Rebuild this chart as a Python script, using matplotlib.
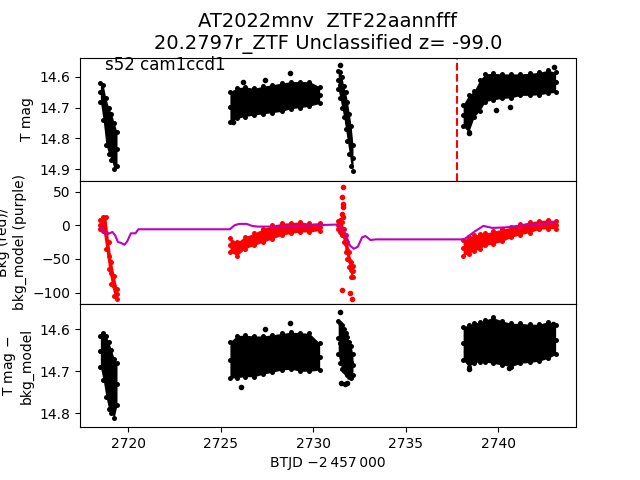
import matplotlib
matplotlib.use('Agg')
import matplotlib.pyplot as plt
from matplotlib.ticker import MultipleLocator
import numpy as np

# times (BTJD - 2457000) at which the band edges were read, one list per orbit chunk
seg1_t = [2718.5, 2718.65, 2718.8, 2718.95, 2719.1, 2719.25, 2719.4]
seg2_t = [2725.5, 2725.9, 2726.3, 2726.8, 2727.3, 2727.8, 2728.3, 2728.8, 2729.3, 2729.8, 2730.35]
seg3_t = [2731.35, 2731.45, 2731.55, 2731.65, 2731.75, 2731.85, 2731.95, 2732.05, 2732.15]
seg4_t = [2738.1, 2738.4, 2738.7, 2739.0, 2739.3, 2739.7, 2740.2, 2740.7, 2741.2,
          2741.7, 2742.2, 2742.7, 2743.1]

# top panel: T mag (bright edge / faint edge of the point cloud)
mag1_lo = [14.62, 14.625, 14.67, 14.70, 14.72, 14.75, 14.78]
mag1_hi = [14.68, 14.74, 14.82, 14.85, 14.87, 14.90, 14.89]
mag2_lo = [14.648, 14.635, 14.632, 14.637, 14.63, 14.625, 14.62, 14.615, 14.615, 14.615, 14.632]
mag2_hi = [14.746, 14.735, 14.729, 14.724, 14.72, 14.716, 14.712, 14.703, 14.70, 14.695, 14.686]
mag3_lo = [14.58, 14.583, 14.60, 14.63, 14.65, 14.68, 14.72, 14.76, 14.82]
mag3_hi = [14.64, 14.67, 14.70, 14.73, 14.77, 14.81, 14.85, 14.89, 14.905]
mag4_lo = [14.69, 14.66, 14.645, 14.61, 14.59, 14.588, 14.59, 14.59, 14.59, 14.588, 14.585, 14.578, 14.585]
mag4_hi = [14.76, 14.78, 14.73, 14.71, 14.68, 14.675, 14.67, 14.668, 14.66, 14.66, 14.658, 14.653, 14.65]
mag_out_t = [2725.64, 2726.19, 2727.38, 2728.73, 2731.43, 2738.4, 2739.86, 2740.62, 2743.01]
mag_out = [14.746, 14.615, 14.61, 14.588, 14.561, 14.784, 14.708, 14.697, 14.568]

# middle panel: background flux (red)
bkg1_lo = [-6, -8, -35, -65, -88, -105, -110]
bkg1_hi = [8, 12, 12, -25, -55, -75, -95]
bkg2_lo = [-40, -45, -35, -30, -25, -20, -15, -12, -10, -10, -8]
bkg2_hi = [-19, -25, -17, -12, -5, 0, 3, 4, 5, 3, 4]
bkg3_lo = [-6, -10, -15, -25, -40, -50, -62, -77, -77]
bkg3_hi = [6, 8, 5, -5, -15, -25, -40, -55, -60]
bkg4_lo = [-45, -42, -38, -35, -30, -28, -24, -18, -14, -11, -6, -5, -5]
bkg4_hi = [-22, -18, -15, -13, -12, -9, -6, -3, 2, 5, 7, 8, 7]
bkg_out_t = [2731.6, 2731.58, 2731.6, 2731.62, 2731.58, 2731.6, 2731.56, 2732.01, 2732.1]
bkg_out = [57, 42, 32, 27, 17, 12, -96, -101, -109]

# background model (purple line)
model_t = [2718.52, 2718.7, 2718.85, 2719.0, 2719.15, 2719.3, 2719.45, 2719.6, 2719.8,
           2719.95, 2720.15, 2720.4, 2720.55, 2725.5, 2725.75, 2726.0, 2726.4, 2726.7,
           2727.0, 2728.0, 2729.0, 2730.0, 2731.3, 2731.47, 2731.74, 2731.98, 2732.19,
           2732.41, 2732.64, 2732.82, 2733.1, 2733.37, 2738.15, 2738.69, 2739.19,
           2739.68, 2740.49, 2741.57, 2743.05]
model_v = [-3, -10, -13, -12, -10, -15, -25, -26, -29, -24, -12, -12, -6, -6, 0, 2, 2, -1,
           -2, -2, -1, 0, 1, -5, -12, -30, -35, -32, -18, -16, -22, -21, -21, -10, -1,
           -4, -3, 1, 3.4]

# bottom panel: T mag - bkg_model
cor1_lo = [14.615, 14.61, 14.615, 14.63, 14.65, 14.67, 14.68]
cor1_hi = [14.69, 14.72, 14.76, 14.79, 14.80, 14.81, 14.78]
cor2_lo = [14.63, 14.615, 14.614, 14.616, 14.616, 14.613, 14.61, 14.607, 14.608, 14.61, 14.633]
cor2_hi = [14.717, 14.715, 14.713, 14.713, 14.707, 14.702, 14.697, 14.695, 14.70, 14.70, 14.697]
cor3_lo = [14.58, 14.585, 14.59, 14.60, 14.61, 14.618, 14.63, 14.641, 14.66]
cor3_hi = [14.66, 14.68, 14.695, 14.70, 14.705, 14.71, 14.713, 14.715, 14.71]
cor4_lo = [14.594, 14.59, 14.585, 14.583, 14.578, 14.572, 14.58, 14.586, 14.586, 14.588, 14.588, 14.582, 14.59]
cor4_hi = [14.673, 14.689, 14.68, 14.677, 14.678, 14.681, 14.685, 14.689, 14.681, 14.679, 14.676, 14.669, 14.66]
cor_out_t = [2726.11, 2727.38, 2728.73, 2731.43, 2731.5, 2731.7, 2731.85, 2738.4, 2740.6, 2742.96]
cor_out = [14.738, 14.60, 14.586, 14.558, 14.729, 14.73, 14.728, 14.695, 14.693, 14.587]

disc_time = 2737.75


def draw_band(ax, t, lo, hi, color):
    # dense point cloud shown as its envelope plus dots along the edges
    lo = np.array(lo)
    hi = np.array(hi)
    ax.fill_between(t, lo, hi, color=color, lw=0)
    for y in (lo, hi, (lo + hi) / 2):
        ax.plot(t, y, 'o', color=color, ms=3.6, mew=0)


fig, (ax1, ax2, ax3) = plt.subplots(3, 1, sharex=True, figsize=(6.4, 4.8))
fig.subplots_adjust(hspace=0)

for t, lo, hi in [(seg1_t, mag1_lo, mag1_hi), (seg2_t, mag2_lo, mag2_hi),
                  (seg3_t, mag3_lo, mag3_hi), (seg4_t, mag4_lo, mag4_hi)]:
    draw_band(ax1, t, lo, hi, 'k')
ax1.plot(mag_out_t, mag_out, 'k.')
ax1.axvline(disc_time, color='r', ls='--', lw=1.5)
ax1.set_ylim(14.938, 14.537)
ax1.yaxis.set_major_locator(MultipleLocator(0.1))
ax1.set_ylabel('T mag')
ax1.text(0.05, 0.9, 's52 cam1ccd1', transform=ax1.transAxes, fontsize=12)
ax1.set_title('AT2022mnv  ZTF22aannfff\n20.2797r_ZTF Unclassified z= -99.0', fontsize=14)

for t, lo, hi in [(seg1_t, bkg1_lo, bkg1_hi), (seg2_t, bkg2_lo, bkg2_hi),
                  (seg3_t, bkg3_lo, bkg3_hi), (seg4_t, bkg4_lo, bkg4_hi)]:
    draw_band(ax2, t, lo, hi, 'r')
ax2.plot(bkg_out_t, bkg_out, 'r.')
ax2.plot(model_t, model_v, 'm-', lw=1.5)
ax2.set_ylim(-117, 66)
ax2.set_ylabel('Bkg (red)/\nbkg_model (purple)')

for t, lo, hi in [(seg1_t, cor1_lo, cor1_hi), (seg2_t, cor2_lo, cor2_hi),
                  (seg3_t, cor3_lo, cor3_hi), (seg4_t, cor4_lo, cor4_hi)]:
    draw_band(ax3, t, lo, hi, 'k')
ax3.plot(cor_out_t, cor_out, 'k.')
ax3.set_ylim(14.833, 14.540)
ax3.yaxis.set_major_locator(MultipleLocator(0.1))
ax3.set_ylabel('T mag $-$\nbkg_model')
ax3.set_xlabel('BTJD \u22122\u2009457\u2009000')
ax3.set_xlim(2717.4, 2744.2)

fig.savefig('out.png', dpi=100)
